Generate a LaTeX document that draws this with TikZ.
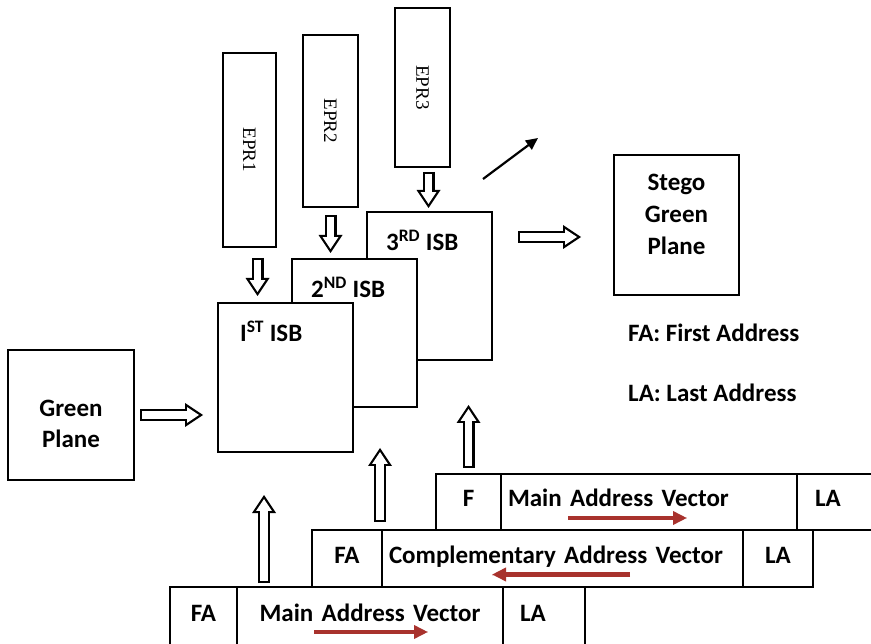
\documentclass[tikz,border=0pt]{standalone}
\usepackage{fontspec}
\usepackage{graphicx}
\setmainfont{Carlito}
\newfontfamily\eprfont{Liberation Serif}
\usetikzlibrary{positioning,arrows.meta,calc}
\definecolor{rojo}{HTML}{A8322D}

\begin{document}
\begin{tikzpicture}[x=1pt, y=-1pt,
      font=\bfseries\fontsize{25}{31}\selectfont,
      caja/.style={draw, fill=white, line width=2.4pt, inner sep=0pt, outer sep=0pt},
      eprcaja/.style={caja, font=\eprfont\fontsize{19}{22}\selectfont},
      celda/.style={draw, line width=2.2pt, outer sep=0pt, inner xsep=7pt, inner ysep=0pt,
                    text height=18pt, text depth=10pt, align=center},
      isbtexto/.style={anchor=west, inner sep=0pt},
      hueca/.style 2 args={draw=white, line width=7.6pt,
                   shorten <=#1+2.2pt, shorten >=#2+4pt,
                   -{Triangle[length=11.8pt, width=15.7pt, line width=0pt]},
                   preaction={draw=black, line width=12pt, shorten <=#1, shorten >=#2,
                              -{Triangle[length=18pt, width=24pt, line width=0pt]}}},
      vector/.style={rojo, line width=4.5pt, -{Triangle[length=14pt, width=13pt]},
                     preaction={draw, rojo!18, line width=2pt, shift={(6,6)}, -}},
      flecha/.style={line width=2.2pt, -{Triangle[length=12pt, width=11pt]}}]
    \useasboundingbox (0,0) rectangle (871,644);
    % planos
    \node[caja, minimum width=126pt, minimum height=130pt,
          label={[name=greentxt, align=center, yshift=-9pt]center:Green\\Plane}] (green) at (71,415) {};
    \node[caja, minimum width=125pt, minimum height=140pt,
          label={[name=stegotxt, align=center, yshift=11pt, font=\bfseries\fontsize{25}{32}\selectfont]center:Stego\\Green\\Plane}] (stego) at (676.5,225) {};
    % bloques ISB
    \node[caja, minimum width=125pt, minimum height=148pt,
          label={[name=isb3txt, isbtexto, xshift=19pt, yshift=-28pt]north west:3\textsuperscript{RD} ISB}] (isb3) at (429.5,286) {};
    \node[caja, minimum width=125pt, minimum height=148pt,
          label={[name=isb2txt, isbtexto, xshift=19pt, yshift=-28pt]north west:2\textsuperscript{ND} ISB}] (isb2) at (354.5,333) {};
    \node[caja, minimum width=135pt, minimum height=149pt,
          label={[name=isb1txt, isbtexto, xshift=22pt, yshift=-28pt]north west:I\textsuperscript{ST} ISB}] (isb1) at (285.5,377.5) {};
    % EPR
    \node[eprcaja, minimum width=53pt, minimum height=194pt] (epr1) at (249.5,150) {\rotatebox{-90}{EPR1}};
    \node[eprcaja, minimum width=55pt, minimum height=172pt] (epr2) at (330.5,121) {\rotatebox{-90}{EPR2}};
    \node[eprcaja, minimum width=55pt, minimum height=159pt] (epr3) at (422.5,87.5) {\rotatebox{-90}{EPR3}};
    % leyenda
    \node[anchor=west, inner sep=0pt] (leyfa) at (628,333) {FA: First Address};
    \node[anchor=west, inner sep=0pt] (leyla) at (628,393) {LA: Last Address};
    % vectores de direcciones
    \node[celda, minimum width=65pt, minimum height=56pt, anchor=north west] (r3f) at (436,474) {F};
    \node[celda, minimum height=56pt, text width=282pt, align=left, right=0pt of r3f] (r3main) {Main Address Vector};
    \node[celda, minimum height=56pt, inner xsep=18pt, text width=57pt, align=left, right=0pt of r3main] (r3la) {LA};
    \node[celda, minimum width=70pt, minimum height=57pt, text depth=8pt, anchor=north west] (r2fa) at (312,530) {FA};
    \node[celda, minimum height=57pt, text depth=8pt, text width=347pt, align=left, right=0pt of r2fa] (r2comp) {Complementary Address Vector};
    \node[celda, minimum width=70pt, minimum height=57pt, text depth=8pt, right=0pt of r2comp] (r2la) {LA};
    \node[celda, minimum width=67pt, minimum height=60pt, anchor=north west] (r1fa) at (170,587) {FA};
    \node[celda, minimum height=60pt, text width=252pt, right=0pt of r1fa] (r1main) {Main Address Vector};
    \node[celda, minimum height=60pt, inner xsep=17pt, text width=48pt, align=left, right=0pt of r1main] (r1la) {LA};
    \draw[vector] ($(r3main.west)+(67,16)$) -- ++(119,0);
    \draw[vector] ($(r2comp.west)+(248,16)$) -- ++(-138,0);
    \draw[vector] ($(r1main.west)+(77,15)$) -- ++(114,0);
    % flechas huecas
    \draw[hueca={6pt}{15pt}] (green.east) -- (green.east -| isb1.west);
    \draw[hueca={26pt}{33pt}] ($(isb3.east |- stego.west)+(0,12)$) -- ($(stego.west)+(0,12)$);
    \draw[hueca={11pt}{7pt}] ($(epr1.south)+(8,0)$) -- ($(epr1.south |- isb1.north)+(8,0)$);
    \draw[hueca={8pt}{6pt}] (epr2.south) -- (epr2.south |- isb2.north);
    \draw[hueca={5pt}{4pt}] ($(epr3.south)+(6,0)$) -- ($(epr3.south |- isb3.north)+(6,0)$);
    \draw[hueca={4pt}{43pt}] ($(r1main.north west)+(27,0)$) -- ($(r1main.north west |- isb1.south)+(27,0)$);
    \draw[hueca={8pt}{41pt}] ($(r2fa.north east)+(-2,0)$) -- ($(r2fa.north east |- isb2.south)+(-2,0)$);
    \draw[hueca={6pt}{45pt}] (r3f.north) -- (r3f.north |- isb3.south);
    % flecha suelta
    \coordinate (diagA) at (483,179);
    \coordinate (diagB) at (538,138);
    \draw[flecha] (diagA) -- (diagB);
\end{tikzpicture}
\end{document}
